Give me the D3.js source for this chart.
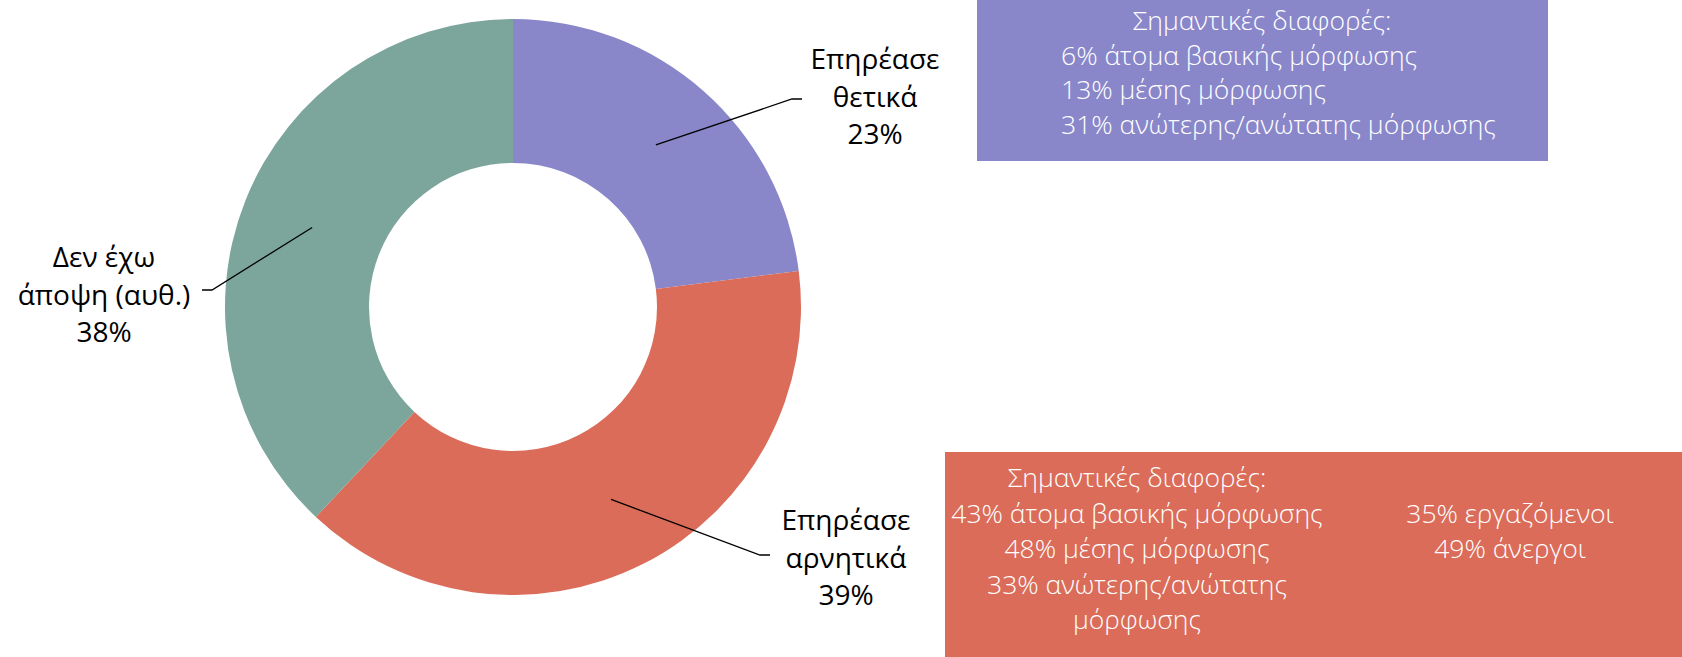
<!DOCTYPE html>
<html>
<head>
<meta charset="utf-8">
<script src="https://cdn.jsdelivr.net/npm/d3@7"></script>
<style>
  body { margin: 0; background: #fff; }
  svg { display: block; }
</style>
</head>
<body>
<script>
// data
var categories = ["Επηρέασε θετικά", "Επηρέασε αρνητικά", "Δεν έχω άποψη (αυθ.)"];
var labelLines = [["Επηρέασε", "θετικά"], ["Επηρέασε", "αρνητικά"], ["Δεν έχω", "άποψη (αυθ.)"]];
var values = [23, 39, 38];
var colors = ["#8987CA", "#DA6C59", "#7CA69B"];

var positiveNotes = ["Σημαντικές διαφορές:", "6% άτομα βασικής μόρφωσης", "13% μέσης μόρφωσης", "31% ανώτερης/ανώτατης μόρφωσης"];
var negativeNotesLeft = ["Σημαντικές διαφορές:", "43% άτομα βασικής μόρφωσης", "48% μέσης μόρφωσης", "33% ανώτερης/ανώτατης", "μόρφωσης"];
var negativeNotesRight = ["35% εργαζόμενοι", "49% άνεργοι"];

function main() {
  var width = 1682, height = 657;
  var cx = 513, cy = 307;
  var outerR = 288, innerR = 144;
  var font = "'Open Sans', 'Noto Sans', sans-serif";

  var svg = d3.select("body").append("svg")
    .attr("width", width)
    .attr("height", height);

  // pick a font size so a sample string gets a target width
  function fitSize(sample, weight, target) {
    var t = svg.append("text")
      .attr("font-family", font)
      .attr("font-weight", weight)
      .attr("font-size", 20)
      .text(sample);
    var w = t.node().getComputedTextLength();
    t.remove();
    return 20 * target / w;
  }
  var labelSize = fitSize("Επηρέασε", 400, 129);
  var noteSize = fitSize("31% ανώτερης/ανώτατης μόρφωσης", 300, 435);

  var pie = d3.pie().sort(null).value(function(d) { return d; });
  var arc = d3.arc().innerRadius(innerR).outerRadius(outerR);
  var arcs = pie(values);

  var g = svg.append("g").attr("transform", "translate(" + cx + "," + cy + ")");

  g.selectAll("path.slice")
    .data(arcs)
    .enter().append("path")
    .attr("class", "slice")
    .attr("d", arc)
    .attr("fill", function(d, i) { return colors[i]; });

  // label layout (relative to chart centre): elbow point and text position
  var labelLayout = [
    { elbow: [279, -208], dir: 1, tx: 362, ty: -238 },
    { elbow: [247, 248], dir: 1, tx: 333, ty: 223 },
    { elbow: [-301, -17], dir: -1, tx: -409, ty: -40 }
  ];

  arcs.forEach(function(d, i) {
    var c = arc.centroid(d);
    var L = labelLayout[i];
    var e = L.elbow;
    g.append("polyline")
      .attr("points", [c, e, [e[0] + 10 * L.dir, e[1]]].map(function(p) { return p.join(","); }).join(" "))
      .attr("fill", "none")
      .attr("stroke", "#000")
      .attr("stroke-width", 1.3);

    var lines = labelLines[i].concat([values[i] + "%"]);
    var t = g.append("text")
      .attr("text-anchor", "middle")
      .attr("font-family", font)
      .attr("font-size", labelSize)
      .attr("fill", "#000");
    lines.forEach(function(s, j) {
      t.append("tspan")
        .attr("x", L.tx)
        .attr("y", L.ty + j * 37.5)
        .text(s);
    });
  });

  // note boxes
  function note(s, x, y, anchor) {
    svg.append("text")
      .attr("x", x)
      .attr("y", y)
      .attr("text-anchor", anchor)
      .attr("font-family", font)
      .attr("font-weight", 300)
      .attr("font-size", noteSize)
      .attr("fill", "#fff")
      .text(s);
  }

  svg.append("rect")
    .attr("x", 977).attr("y", 0)
    .attr("width", 571).attr("height", 161)
    .attr("fill", colors[0]);

  positiveNotes.forEach(function(s, j) {
    note(s, j === 0 ? 1262 : 1061, 30 + j * 34.5, j === 0 ? "middle" : "start");
  });

  svg.append("rect")
    .attr("x", 945).attr("y", 452)
    .attr("width", 737).attr("height", 205)
    .attr("fill", colors[1]);

  negativeNotesLeft.forEach(function(s, j) {
    note(s, 1137, 487 + j * 35.5, "middle");
  });

  negativeNotesRight.forEach(function(s, j) {
    note(s, 1510, 522.5 + j * 35.5, "middle");
  });
}

main();
</script>
</body>
</html>
